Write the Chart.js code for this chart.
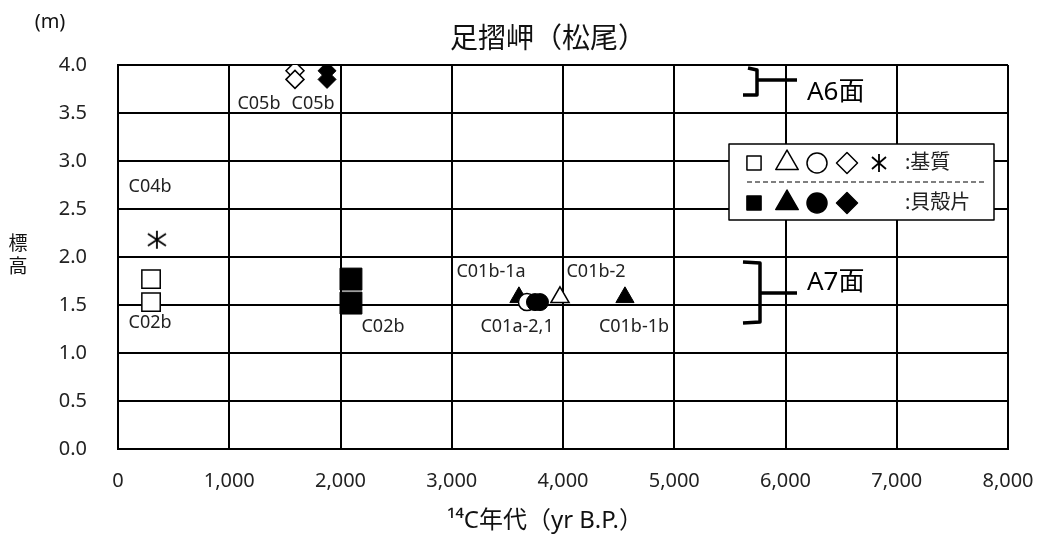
<!DOCTYPE html>
<html>
<head>
<meta charset="utf-8">
<script src="https://cdn.jsdelivr.net/npm/chart.js@4/dist/chart.umd.min.js"></script>
<style>
  html, body { margin: 0; padding: 0; background: #fff; }
  #wrap { width: 1040px; height: 537px; }
</style>
</head>
<body>
<div id="wrap"><canvas id="myChart-Scatter"></canvas></div>
<script>
const FONT = "'Noto Sans', 'Noto Sans CJK JP', sans-serif";

// data (14C age yr B.P., elevation m)
const openSquare = [{ x: 297, y: 1.77 }, { x: 297, y: 1.53 }];
const filledSquare = [{ x: 2094, y: 1.77 }, { x: 2094, y: 1.52 }];
const openTriangle = [{ x: 3973, y: 1.58 }];
const filledTriangle = [{ x: 3604, y: 1.58 }, { x: 4557, y: 1.58 }];
const openCircle = [{ x: 3676, y: 1.53 }];
const filledCircle = [{ x: 3748, y: 1.53 }, { x: 3793, y: 1.53 }];
const openDiamond = [{ x: 1591, y: 3.94 }, { x: 1591, y: 3.85 }];
const filledDiamond = [{ x: 1879, y: 3.94 }, { x: 1879, y: 3.85 }];
const asterisk = [{ x: 350, y: 2.18 }];

// sample labels
const labelTexts = ['C05b', 'C05b', 'C04b', 'C02b', 'C02b', 'C01b-1a', 'C01b-2', 'C01a-2,1', 'C01b-1b'];
const labelX = [1267, 1753, 288, 288, 2382, 3353, 4297, 3587, 4638];
const labelY = [3.60, 3.60, 2.73, 1.31, 1.27, 1.84, 1.84, 1.27, 1.27];

const xTicks = [0, 1000, 2000, 3000, 4000, 5000, 6000, 7000, 8000];
const yTicks = [0, 0.5, 1.0, 1.5, 2.0, 2.5, 3.0, 3.5, 4.0];

// asterisk marker
function makeStar(w, h) {
  const cv = document.createElement('canvas');
  cv.width = w; cv.height = h;
  const c = cv.getContext('2d');
  c.strokeStyle = '#000';
  c.lineWidth = 1.8;
  c.beginPath();
  c.moveTo(w / 2, 1); c.lineTo(w / 2, h - 1);
  c.moveTo(1, h * 0.2); c.lineTo(w - 1, h * 0.8);
  c.moveTo(w - 1, h * 0.2); c.lineTo(1, h * 0.8);
  c.stroke();
  return cv;
}
const star = makeStar(20, 20);
const legendStar = makeStar(16, 20);

const overlay = {
  id: 'overlay',
  afterDatasetsDraw(chart) {
    const { ctx, scales: { x, y } } = chart;
    ctx.save();
    ctx.fillStyle = '#222';
    ctx.font = '18px ' + FONT;
    ctx.textAlign = 'center';
    ctx.textBaseline = 'middle';
    labelTexts.forEach((t, i) => {
      ctx.fillText(t, x.getPixelForValue(labelX[i]), y.getPixelForValue(labelY[i]));
    });

    // brackets for terraces
    ctx.strokeStyle = '#000';
    ctx.lineWidth = 3.5;
    ctx.lineJoin = 'round';
    ctx.beginPath();
    ctx.moveTo(743, 95); ctx.lineTo(757, 95); ctx.lineTo(757, 70); ctx.lineTo(748, 68);
    ctx.moveTo(757, 80); ctx.lineTo(797, 80);
    ctx.moveTo(743, 262); ctx.lineTo(760, 263); ctx.lineTo(760, 322); ctx.lineTo(743, 323);
    ctx.moveTo(760, 293); ctx.lineTo(797, 293);
    ctx.stroke();
    ctx.fillStyle = '#000';
    ctx.font = '26px ' + FONT;
    ctx.textAlign = 'left';
    ctx.fillText('A6面', 807, 93);
    ctx.fillText('A7面', 807, 283);

    // legend box
    ctx.fillStyle = '#fff';
    ctx.fillRect(729, 144, 265, 76);
    ctx.lineWidth = 1.5;
    ctx.strokeStyle = '#000';
    ctx.strokeRect(729, 144, 265, 76);
    ctx.setLineDash([5, 3]);
    ctx.lineWidth = 1.2;
    ctx.beginPath();
    ctx.moveTo(747, 182); ctx.lineTo(986, 182);
    ctx.stroke();
    ctx.setLineDash([]);
    const styles = ['rect', 'triangle', 'circle', 'rectRot'];
    const radii = [10, 13, 10, 10.5];
    const lx = [754, 787, 817, 847];
    styles.forEach((s, i) => {
      ctx.fillStyle = '#fff';
      ctx.lineWidth = 1.5;
      Chart.helpers.drawPoint(ctx, { pointStyle: s, radius: radii[i], rotation: 0, borderWidth: 1.5 }, lx[i], 163);
      ctx.fillStyle = '#000';
      Chart.helpers.drawPoint(ctx, { pointStyle: s, radius: radii[i], rotation: 0, borderWidth: 1 }, lx[i], 203);
    });
    ctx.drawImage(legendStar, 871, 153);
    ctx.fillStyle = '#222';
    ctx.font = '20px ' + FONT;
    ctx.fillText(':基質', 905, 163);
    ctx.fillText(':貝殻片', 905, 203);
    ctx.restore();
  },
  afterDraw(chart) {
    const { ctx } = chart;
    ctx.save();
    ctx.fillStyle = '#111';
    ctx.textAlign = 'center';
    ctx.textBaseline = 'middle';
    ctx.font = '28px ' + FONT;
    ctx.fillText('足摺岬（松尾）', 548, 40);
    ctx.font = '20px ' + FONT;
    ctx.fillText('(m)', 50, 22);
    ctx.font = '19px ' + FONT;
    ctx.fillText('標', 18, 245);
    ctx.fillText('高', 18, 268);
    ctx.font = '24px ' + FONT;
    ctx.fillText('¹⁴C年代（yr B.P.）', 545, 521);
    ctx.restore();
  }
};

const open = { backgroundColor: '#fff', borderColor: '#000', borderWidth: 1.5 };
const filled = { backgroundColor: '#000', borderColor: '#000', borderWidth: 1 };

new Chart(document.getElementById('myChart-Scatter'), {
  type: 'scatter',
  data: {
    datasets: [
      { label: 'filled circle', data: filledCircle, pointStyle: 'circle', pointRadius: 8.5, ...filled },
      { label: 'open circle', data: openCircle, pointStyle: 'circle', pointRadius: 8.5, ...open },
      { label: 'filled triangle', data: filledTriangle, pointStyle: 'triangle', pointRadius: 10.5, ...filled },
      { label: 'open triangle', data: openTriangle, pointStyle: 'triangle', pointRadius: 10.5, ...open },
      { label: 'open square', data: openSquare, pointStyle: 'rect', pointRadius: 13, ...open },
      { label: 'filled square', data: filledSquare, pointStyle: 'rect', pointRadius: 15.5, ...filled },
      { label: 'open diamond', data: openDiamond, pointStyle: 'rectRot', pointRadius: 9, ...open },
      { label: 'filled diamond', data: filledDiamond, pointStyle: 'rectRot', pointRadius: 9, ...filled },
      { label: 'asterisk', data: asterisk, pointStyle: star, pointRadius: 10 }
    ]
  },
  options: {
    responsive: true,
    maintainAspectRatio: false,
    animation: false,
    layout: { padding: { top: 65, right: 32, left: 0, bottom: 0 } },
    plugins: { legend: { display: false }, tooltip: { enabled: false } },
    scales: {
      x: {
        type: 'linear', min: 0, max: 8000,
        afterBuildTicks: s => { s.ticks = xTicks.map(v => ({ value: v })); },
        afterFit: s => { s.height = 88; s.paddingLeft = 0; s.paddingRight = 0; },
        ticks: {
          padding: 20, color: '#222', font: { family: FONT, size: 20 },
          callback: v => v.toLocaleString('en-US')
        },
        grid: { color: '#000', lineWidth: 2, drawTicks: false },
        border: { color: '#000', width: 2 }
      },
      y: {
        min: 0, max: 4,
        afterBuildTicks: s => { s.ticks = yTicks.map(v => ({ value: v })); },
        afterFit: s => { s.width = 118; s.paddingTop = 0; s.paddingBottom = 0; },
        ticks: {
          padding: 31, color: '#222', font: { family: FONT, size: 20 },
          callback: v => v.toFixed(1)
        },
        grid: { color: '#000', lineWidth: 2, drawTicks: false },
        border: { color: '#000', width: 2 }
      }
    }
  },
  plugins: [overlay]
});
</script>
</body>
</html>
